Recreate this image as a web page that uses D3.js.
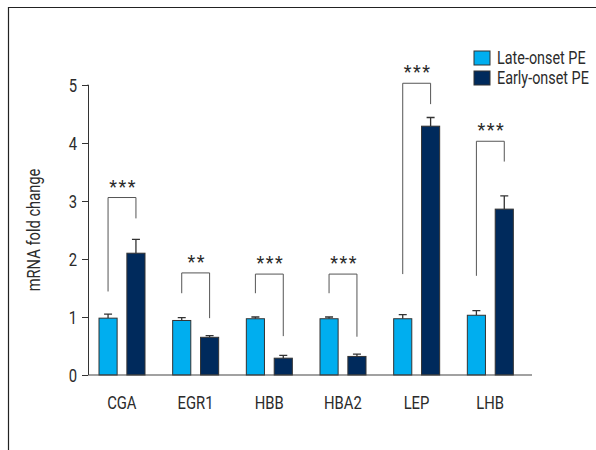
<!DOCTYPE html>
<html>
<head>
<meta charset="utf-8">
<script src="https://cdn.jsdelivr.net/npm/d3@7"></script>
<style>
  body { margin: 0; background: #fff; }
  svg text { font-family: "Roboto", "Noto Sans", sans-serif; fill: #2b2b2b; }
</style>
</head>
<body>
<svg id="chart"></svg>
<script>
// data
const genes = ['CGA', 'EGR1', 'HBB', 'HBA2', 'LEP', 'LHB']
const groups = ['Late-onset PE', 'Early-onset PE']
const late = [0.98, 0.94, 0.97, 0.97, 0.97, 1.03]
const lateErr = [0.07, 0.05, 0.03, 0.03, 0.07, 0.08]
const early = [2.10, 0.65, 0.29, 0.32, 4.29, 2.86]
const earlyErr = [0.24, 0.03, 0.05, 0.04, 0.15, 0.23]
const stars = ['***', '**', '***', '***', '***', '***']
// bracket: top, left leg end, right leg end (in data units)
const bracketTop = [3.06, 1.76, 1.74, 1.74, 5.03, 4.03]
const bracketLeft = [1.44, 1.41, 1.41, 1.41, 1.74, 1.71]
const bracketRight = [2.70, 0.98, 0.67, 0.66, 4.67, 3.68]
const yTicks = [0, 1, 2, 3, 4, 5]

const colors = {'Late-onset PE': '#00aeef', 'Early-onset PE': '#002a5c'}

const width = 596, height = 450
const sx = 0.78   // squeeze text horizontally to mimic a condensed face
const svg = d3.select('#chart').attr('width', width).attr('height', height)

// outer frame (top + left edge only)
svg.append('path')
    .attr('d', 'M8.5,450V7.5H596')
    .attr('fill', 'none')
    .attr('stroke', '#222')
    .attr('stroke-width', 1.2)

const axisX = 88, axisEnd = 532
const yScale = d3.scaleLinear().domain([0, 5]).range([375, 85])
const x0 = d3.scaleBand().domain(genes).range([85, 527])
const x1 = d3.scaleBand().domain(groups).range([14, 60]).paddingInner(0.35)

const rows = genes.map((g, i) => ({
    gene: g,
    bars: [
        {group: groups[0], v: late[i], e: lateErr[i]},
        {group: groups[1], v: early[i], e: earlyErr[i]}
    ],
    star: stars[i], top: bracketTop[i], left: bracketLeft[i], right: bracketRight[i]
}))

// y axis
const yAxisG = svg.append('g')
    .attr('transform', `translate(${axisX},0)`)
    .call(d3.axisLeft(yScale).tickValues(yTicks).tickFormat(d3.format('d')).tickSize(6))
yAxisG.select('.domain').attr('stroke', '#333').attr('d', `M-0.5,${yScale(5)}H0.5V${yScale(0)}`)
yAxisG.selectAll('.tick line').attr('stroke', '#333')
yAxisG.selectAll('.tick text')
    .attr('font-size', 19).attr('fill', '#2b2b2b')
    .attr('x', -11 / sx)
    .attr('transform', `scale(${sx},1)`)
    .style('font-family', '"Roboto", sans-serif')

svg.append('text')
    .attr('transform', `translate(40,230) rotate(-90) scale(0.84,1)`)
    .attr('text-anchor', 'middle')
    .attr('font-size', 17.5)
    .text('mRNA fold change')

// bars
const gGroup = svg.selectAll('.gene').data(rows).enter().append('g')
    .attr('class', 'gene')
    .attr('transform', d => `translate(${x0(d.gene)},0)`)

gGroup.selectAll('.err').data(d => d.bars).enter().append('path')
    .attr('class', 'err')
    .attr('fill', 'none')
    .attr('stroke', '#333')
    .attr('stroke-width', 1.3)
    .attr('d', d => {
        const cx = x1(d.group) + x1.bandwidth() / 2
        const yt = yScale(d.v + d.e)
        return `M${cx},${yScale(d.v)}V${yt}M${cx - 4},${yt}H${cx + 4}`
    })

gGroup.selectAll('.bar').data(d => d.bars).enter().append('rect')
    .attr('class', 'bar')
    .attr('x', d => x1(d.group))
    .attr('y', d => yScale(d.v))
    .attr('width', x1.bandwidth())
    .attr('height', d => yScale(0) - yScale(d.v))
    .attr('fill', d => colors[d.group])
    .attr('stroke', '#333')
    .attr('stroke-width', 1)

// significance brackets
gGroup.append('path')
    .attr('fill', 'none')
    .attr('stroke', '#555')
    .attr('stroke-width', 1)
    .attr('d', d => {
        const xl = x1(groups[0]) + x1.bandwidth() / 2
        const xr = x1(groups[1]) + x1.bandwidth() / 2
        return `M${xl},${yScale(d.left)}V${yScale(d.top)}H${xr}V${yScale(d.right)}`
    })

const starX = (x1(groups[0]) + x1(groups[1]) + x1.bandwidth()) / 2
gGroup.append('text')
    .attr('transform', d => `translate(${starX + 1},${yScale(d.top) - 5})`)
    .attr('text-anchor', 'middle')
    .attr('font-size', 18)
    .attr('letter-spacing', 1.5)
    .attr('fill', '#666')
    .text(d => d.star)

// x axis line + labels
svg.append('line')
    .attr('x1', axisX).attr('x2', axisEnd)
    .attr('y1', yScale(0)).attr('y2', yScale(0))
    .attr('stroke', '#444').attr('stroke-width', 1.2)

svg.selectAll('.xlabel').data(genes).enter().append('text')
    .attr('class', 'xlabel')
    .attr('transform', d => `translate(${x0(d) + x0.bandwidth() / 2},409) scale(${sx},1)`)
    .attr('text-anchor', 'middle')
    .attr('font-size', 19)
    .text(d => d)

// legend
const legend = svg.append('g').attr('transform', 'translate(474,51)')
const li = legend.selectAll('g').data(groups).enter().append('g')
    .attr('transform', (d, i) => `translate(0,${i * 20})`)
li.append('rect')
    .attr('width', 16).attr('height', 14)
    .attr('fill', d => colors[d])
    .attr('stroke', '#333').attr('stroke-width', 1)
li.append('text')
    .attr('transform', `translate(23,13) scale(0.8,1)`)
    .attr('font-size', 18)
    .text(d => d)
</script>
</body>
</html>
